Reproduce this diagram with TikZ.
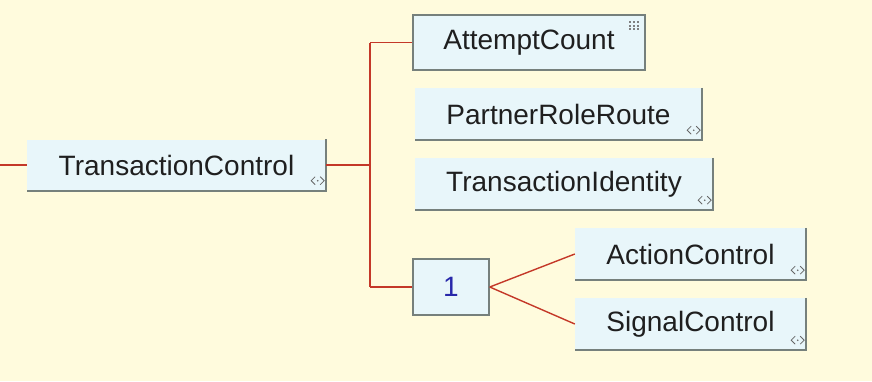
\documentclass[tikz,border=0pt]{standalone}
\usepackage{fontspec}
\setmainfont{Liberation Sans}
\definecolor{bg}{RGB}{255,251,221}
\definecolor{boxfill}{RGB}{232,246,250}
\definecolor{edge}{RGB}{118,128,124}
\definecolor{link}{RGB}{196,56,40}
\definecolor{numblue}{RGB}{40,40,170}
\begin{document}
\begin{tikzpicture}[x=1pt,y=-1pt,
  elem/.style={rectangle, fill=boxfill, inner sep=0pt, font=\fontsize{28}{32}\selectfont, text=black!88},
  link/.style={draw=link, line width=1.8pt},
  shadowedge/.style={draw=edge, line width=1.8pt},
  icon/.style={draw=black!60, line width=0.8pt}]
\fill[bg] (0,0) rectangle (872,381);
\useasboundingbox (0,0) rectangle (872,381);
% nodes
\node[elem, minimum width=299pt, minimum height=51pt] (tc) at (176.5,165) {\raisebox{-2pt}{TransactionControl}};
\node[elem, draw=edge, line width=1.5pt, minimum width=232pt, minimum height=55pt] (ac) at (529,42.5) {\raisebox{-2pt}{AttemptCount}};
\node[elem, minimum width=287pt, minimum height=52pt] (prr) at (558.5,114) {\raisebox{-2pt}{PartnerRoleRoute}};
\node[elem, minimum width=298pt, minimum height=52pt] (tid) at (564,184) {\raisebox{-2pt}{TransactionIdentity}};
\node[elem, draw=edge, line width=1.5pt, minimum width=76pt, minimum height=56pt, text=numblue] (one) at (451,287) {1};
\node[elem, minimum width=231pt, minimum height=52pt] (act) at (690.5,254) {\raisebox{-2pt}{ActionControl}};
\node[elem, minimum width=231pt, minimum height=52pt] (sig) at (690.5,324) {\raisebox{-2pt}{SignalControl}};
% shadow edges and icons
\foreach \n in {tc,prr,tid,act,sig}{
  \draw[shadowedge] (\n.north east) -- (\n.south east) -- (\n.south west);
  \draw[icon] ([shift={(-11,-14)}]\n.south east) -- ([shift={(-15,-10)}]\n.south east) -- ([shift={(-11,-6)}]\n.south east);
  \draw[icon] ([shift={(-6,-14)}]\n.south east) -- ([shift={(-2,-10)}]\n.south east) -- ([shift={(-6,-6)}]\n.south east);
  \fill[black!60] ([shift={(-8.5,-10)}]\n.south east) circle (0.9pt);
}
% grid icon on AttemptCount
\foreach \i in {0,1,2}{\foreach \j in {0,1,2}{
  \fill[black!50] ([shift={(-17+4*\i,7+3.5*\j)}]ac.north east) rectangle ++(2.5,2);
}}
% connectors
\coordinate (start) at (0,165);
\coordinate (fork) at (370,165);
\draw[link] (start) -- (tc.west);
\draw[link] (tc.east) -- (fork);
\draw[link] (fork |- ac.west) -- (fork |- one.west);
\draw[link] (fork |- ac.west) -- (ac.west);
\draw[link] (fork |- one.west) -- (one.west);
\draw[link, line width=1.4pt] (one.east) -- (act.west);
\draw[link, line width=1.4pt] (one.east) -- (sig.west);
\end{tikzpicture}
\end{document}
